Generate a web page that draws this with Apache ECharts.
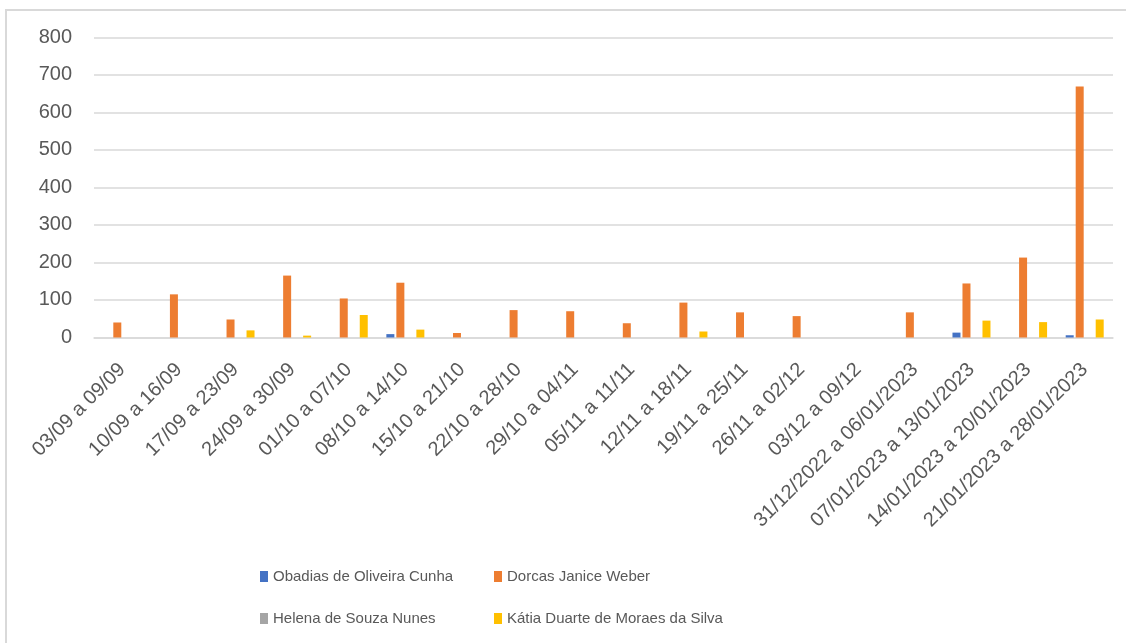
<!DOCTYPE html>
<html>
<head>
<meta charset="utf-8">
<script src="https://cdn.jsdelivr.net/npm/echarts@6/dist/echarts.min.js"></script>
<style>html,body{margin:0;padding:0;background:#fff}#c{width:1126px;height:643px}</style>
</head>
<body>
<div id="c"></div>
<script>
const categories = ["03/09 a 09/09","10/09 a 16/09","17/09 a 23/09","24/09 a 30/09","01/10 a 07/10","08/10 a 14/10","15/10 a 21/10","22/10 a 28/10","29/10 a 04/11","05/11 a 11/11","12/11 a 18/11","19/11 a 25/11","26/11 a 02/12","03/12 a 09/12","31/12/2022 a 06/01/2023","07/01/2023 a 13/01/2023","14/01/2023 a 20/01/2023","21/01/2023 a 28/01/2023"];
const seriesNames = ["Obadias de Oliveira Cunha","Dorcas Janice Weber","Helena de Souza Nunes","Kátia Duarte de Moraes da Silva"];
const obadias = [0,0,0,0,0,9,0,0,0,0,0,0,0,0,0,13,0,6];
const dorcas  = [40,115,48,165,104,146,12,73,70,38,93,67,57,0,67,144,213,669];
const helena  = [0,0,0,0,0,0,0,0,0,0,0,0,0,0,0,0,0,0];
const katia   = [0,0,19,5,60,21,0,0,0,0,16,0,0,0,0,45,41,48];
const yTicks = [0,100,200,300,400,500,600,700,800];

const colors = ["#4472C4","#ED7D31","#A5A5A5","#FFC000"];
const values = [obadias, dorcas, helena, katia];

const chart = echarts.init(document.getElementById('c'), null, {renderer:'canvas'});
const textColor = '#595959';
const legendPos = [[260,569],[494,569],[260,611],[494,611]];
chart.setOption({
  animation:false,
  backgroundColor:'#fff',
  graphic:[{type:'rect',shape:{x:6,y:10,width:1200,height:700},style:{fill:'none',stroke:'#d9d9d9',lineWidth:2},silent:true}],
  grid:{left:94,right:13,top:37.3,bottom:305.5},
  xAxis:{type:'category',data:categories,
    axisLine:{lineStyle:{color:'#d9d9d9',width:1.5}},axisTick:{show:false},
    axisLabel:{rotate:45,interval:0,margin:29,color:textColor,fontSize:20,fontFamily:'Liberation Sans'}},
  yAxis:{type:'value',min:0,max:yTicks[yTicks.length-1],interval:100,
    axisLine:{show:false},axisTick:{show:false},
    splitLine:{lineStyle:{color:'#d9d9d9',width:1.5}},
    axisLabel:{margin:22,color:textColor,fontSize:20,fontFamily:'Liberation Sans'}},
  legend: seriesNames.map((n,i)=>({data:[n],left:legendPos[i][0],top:legendPos[i][1],padding:0,
    itemWidth:8,itemHeight:11,itemGap:5,icon:'rect',
    textStyle:{color:textColor,fontSize:15,fontFamily:'Liberation Sans'}})),
  series: seriesNames.map((n,i)=>({name:n,type:'bar',data:values[i],barWidth:8,barGap:'25%',
    itemStyle:{color:colors[i]}}))
});
</script>
</body>
</html>
